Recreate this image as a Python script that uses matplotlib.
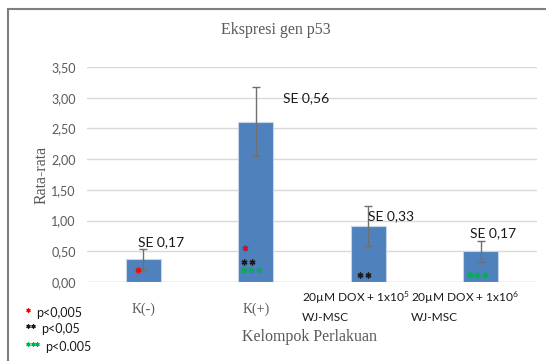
import numpy as np
import matplotlib.pyplot as plt
from matplotlib.lines import Line2D
import matplotlib.transforms as mtransforms

plt.rcParams['mathtext.default'] = 'regular'

# data
kelompok = ['K(-)', 'K(+)', '20µM DOX + 1x10$^5$\nWJ-MSC', '20µM DOX + 1x10$^6$\nWJ-MSC']
rata = [0.37, 2.61, 0.91, 0.50]
se = [0.17, 0.56, 0.33, 0.17]
se_label = ['SE 0,17', 'SE 0,56', 'SE 0,33', 'SE 0,17']
yticks = [0, 0.5, 1.0, 1.5, 2.0, 2.5, 3.0, 3.5]

# tanda signifikansi: (x pusat, y, jumlah bintang, warna)
stars = [
    (-0.05, 0.20, 1, 'red'),
    (0.90, 0.55, 1, 'red'),
    (0.93, 0.33, 2, '#1a1a1a'),
    (0.96, 0.20, 3, '#00b050'),
    (1.96, 0.12, 2, '#1a1a1a'),
    (2.97, 0.12, 3, '#00b050'),
]

serif = ['Liberation Serif', 'DejaVu Serif']
sans = ['Lato', 'DejaVu Sans']
abu = '#595959'

fig = plt.figure(figsize=(5.46, 3.61), dpi=100)
ax = fig.add_axes([87/546, 1-282/361, 450/546, 215/361])

# bingkai luar
fig.lines.append(Line2D([8/546, 8/546], [0, 1-9/361], transform=fig.transFigure, color='#7f7f7f', linewidth=1.5))
fig.lines.append(Line2D([8/546, 1], [1-9/361, 1-9/361], transform=fig.transFigure, color='#7f7f7f', linewidth=1.5))

x = np.arange(len(rata))
ax.bar(x, rata, width=0.31, color='#4f81bd', edgecolor='#c6d4ea', linewidth=0.8, zorder=2)
ax.errorbar(x, rata, yerr=se, fmt='none', ecolor='#6f6f6f', elinewidth=1, capsize=3, zorder=3)

gap = 0.068
for s in stars:
    n = s[2]
    xs = s[0] + (np.arange(n) - (n - 1) / 2) * gap
    ax.plot(xs, [s[1]] * n, linestyle='none', marker=(6, 2, 0), markersize=4.2,
            markeredgewidth=1.0, color=s[3], zorder=4)

# label SE
se_pos = [(-0.05, 0.55), (1.24, 2.90), (2.0, 0.98), (2.905, 0.69)]
for i in range(len(se_label)):
    ax.text(se_pos[i][0], se_pos[i][1], se_label[i], ha='left', va='bottom', fontsize=10,
            family=sans, color='#1a1a1a')

ax.set_xlim(-0.5, 3.5)
ax.set_ylim(0, 3.5)
ax.set_yticks(yticks)
ax.set_yticklabels([('%.2f' % v).replace('.', ',') for v in yticks], family=sans, fontsize=9, color=abu)
ax.tick_params(axis='y', length=0, pad=8)
ax.tick_params(axis='x', length=0, labelbottom=False)
ax.grid(axis='y', color='#d9d9d9', linewidth=1, zorder=0)
ax.set_axisbelow(True)
for sp in ax.spines.values():
    sp.set_visible(False)
ax.axhline(0, color='#d9d9d9', linewidth=1, zorder=1)

# label kategori
trans = mtransforms.blended_transform_factory(ax.transData, ax.transAxes)
ax.text(0, -0.095, kelompok[0], transform=trans, ha='center', va='top', family=serif, fontsize=10, color=abu)
ax.text(1, -0.095, kelompok[1], transform=trans, ha='center', va='top', family=serif, fontsize=10, color=abu)
ax.text(1.41, -0.035, kelompok[2], transform=trans, ha='left', va='top', family=sans, fontsize=8.6,
        color='#1a1a1a', linespacing=1.7)
ax.text(2.38, -0.035, kelompok[3], transform=trans, ha='left', va='top', family=sans, fontsize=8.6,
        color='#1a1a1a', linespacing=1.7)

fig.text(276/546, 1-30/361, 'Ekspresi gen p53', ha='center', va='center', family=serif, fontsize=11.5, color=abu)
fig.text(310/546, 1-337/361, 'Kelompok Perlakuan', ha='center', va='center', family=serif, fontsize=11.5, color=abu)
fig.text(42/546, 1-175/361, 'Rata-rata', ha='center', va='center', rotation=90, family=serif, fontsize=11.5, color=abu)

# keterangan
ket = [(1, 'red', 'p<0,005', 313), (2, '#1a1a1a', 'p<0,05', 329), (3, '#00b050', 'p<0.005', 347)]
for k in ket:
    for j in range(k[0]):
        fig.lines.append(Line2D([(28 + 4.5*j)/546], [1-(k[3]-3)/361], transform=fig.transFigure,
                                linestyle='none', marker=(6, 2, 0), markersize=3,
                                markeredgewidth=0.9, color=k[1]))
    off = 6 + 4.5*k[0]
    fig.text((26+off)/546, 1-k[3]/361, k[2], ha='left', va='center', family=sans, fontsize=9, color='#1a1a1a')

fig.savefig('out.png', dpi=100)
